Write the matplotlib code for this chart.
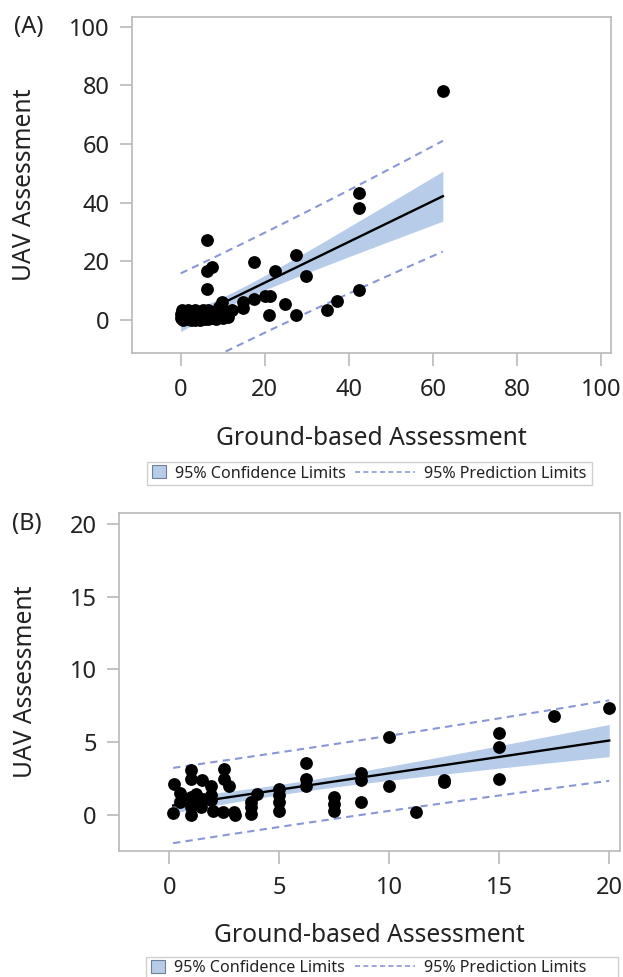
import numpy as np
import matplotlib
matplotlib.use("Agg")
import matplotlib.pyplot as plt
from matplotlib.patches import Patch, Rectangle
from matplotlib.lines import Line2D

plt.rcParams['font.family'] = ['Noto Sans', 'DejaVu Sans']

# ---------------- data ----------------
a_ground = [62.4, 42.5, 42.5, 42.5, 37.3, 34.9, 6.2, 7.4, 6.3, 6.3, 17.5, 27.4, 22.5,
            29.8, 24.8, 21.1, 27.4, 20.0, 21.3, 17.5, 14.9, 14.9, 12.1, 11.3, 9.8,
            0.0, 0.0, 0.3, 0.6, 0.6, 1.0, 1.5, 1.8, 1.8, 2.5, 3.0, 3.0, 3.5, 4.2,
            4.5, 5.4, 5.4, 6.0, 6.6, 6.6, 7.2, 7.8, 8.2, 9.0, 9.0, 10.1, 10.1,
            0.2, 0.4, 0.8, 1.2, 1.4, 2.2, 2.6, 3.3, 3.8, 4.8, 5.0, 5.8, 6.3, 7.0,
            8.5, 9.5]
a_uav = [78.2, 43.4, 38.1, 10.2, 6.6, 3.2, 27.1, 18.2, 16.5, 10.5, 19.6, 22.2, 16.8,
         15.1, 5.5, 1.5, 1.5, 8.0, 8.2, 7.2, 6.2, 4.0, 3.4, 1.1, 6.2,
         0.5, 2.0, 3.2, 1.0, 0.0, 2.5, 0.3, 3.4, 1.2, 0.0, 2.3, 0.5, 3.2, 1.2,
         0.0, 3.4, 0.8, 2.0, 3.4, 0.3, 1.5, 0.5, 2.8, 4.3, 1.0, 3.4, 0.8,
         1.5, 0.2, 2.8, 0.8, 1.8, 2.8, 1.0, 0.0, 1.8, 2.5, 1.2, 0.2, 1.0, 2.6,
         0.4, 2.0]

b_ground = [0.23, 0.18, 0.49, 0.49, 0.99, 0.99, 0.99, 0.99, 0.99, 1.22, 1.29, 1.44,
            1.49, 1.9, 1.9, 1.9, 1.97, 1.56, 2.5, 2.5, 2.73, 2.46, 2.96, 3.0,
            3.72, 3.72, 3.72, 3.98, 5.0, 5.0, 5.0, 5.0, 6.22, 6.22, 6.22,
            7.47, 7.47, 7.47, 8.7, 8.7, 8.73, 9.99, 9.99, 11.23, 12.49, 12.49,
            15.0, 15.0, 15.0, 17.5, 20.0]
b_uav = [2.17, 0.16, 1.53, 0.91, 3.13, 2.51, 1.25, 0.57, 0.0, 1.48, 0.91, 0.57,
         2.4, 2.05, 1.37, 1.03, 0.34, 1.14, 3.2, 2.51, 1.99, 0.23, 0.23, 0.0,
         0.91, 0.57, 0.12, 1.44, 1.83, 1.37, 0.91, 0.34, 3.58, 2.47, 2.05,
         1.25, 0.8, 0.3, 2.9, 2.4, 0.91, 5.36, 2.01, 0.23, 2.3, 2.45,
         5.66, 4.68, 2.51, 6.8, 7.35]

a_ticks = [0, 20, 40, 60, 80, 100]
b_ticks = [0, 5, 10, 15, 20]
legend_labels = ['95% Confidence Limits', '95% Prediction Limits']

CI_COLOR = '#b7cce8'
PI_COLOR = '#8a97d6'
SPINE = '#b9b9b9'
TXT = '#222222'
W, H = 623, 977


def fit_bands(x, y, t=2.0):
    x = np.asarray(x, float)
    y = np.asarray(y, float)
    n = len(x)
    b1, b0 = np.polyfit(x, y, 1)
    resid = y - (b0 + b1 * x)
    s = np.sqrt(np.sum(resid ** 2) / (n - 2))
    xm = x.mean()
    sxx = np.sum((x - xm) ** 2)
    xs = np.linspace(x.min(), x.max(), 200)
    yh = b0 + b1 * xs
    ci = t * s * np.sqrt(1 / n + (xs - xm) ** 2 / sxx)
    pi = t * s * np.sqrt(1 + 1 / n + (xs - xm) ** 2 / sxx)
    return xs, yh, ci, pi


def panel(ax, x, y, xlim, ylim, ticks, ylab_x):
    xs, yh, ci, pi = fit_bands(x, y)
    ax.fill_between(xs, yh - ci, yh + ci, color=CI_COLOR, lw=0, zorder=1)
    ax.plot(xs, yh + pi, color=PI_COLOR, lw=1.5, ls=(0, (3.5, 2.5)), zorder=2)
    ax.plot(xs, yh - pi, color=PI_COLOR, lw=1.5, ls=(0, (3.5, 2.5)), zorder=2)
    ax.scatter(x, y, s=85, color='black', zorder=3, linewidths=0)
    ax.plot(xs, yh, color='black', lw=1.7, zorder=4)
    ax.set_xlim(*xlim)
    ax.set_ylim(*ylim)
    ax.set_xticks(ticks)
    ax.set_yticks(ticks)
    for sp in ax.spines.values():
        sp.set_color(SPINE)
        sp.set_linewidth(1.2)
    ax.tick_params(length=9, width=1.2, color=SPINE, labelsize=17,
                   labelcolor=TXT, pad=7)
    ax.tick_params(axis='x', pad=9)
    ax.set_xlabel('Ground-based Assessment', fontsize=17.7, color=TXT, labelpad=17)
    ax.set_ylabel('UAV Assessment', fontsize=17.7, color=TXT)
    bb = ax.get_position()
    ax.yaxis.set_label_coords((ylab_x / W - bb.x0) / bb.width, 0.5)


def legend_row(fig, box, yc):
    x0, x1, y0, y1 = box
    fig.patches.append(Rectangle((x0 / W, 1 - y1 / H), (x1 - x0) / W, (y1 - y0) / H,
                                 transform=fig.transFigure, facecolor='white',
                                 edgecolor='#cfcfcf', lw=1.0))
    h1 = Patch(facecolor=CI_COLOR, edgecolor='#6f7f98', lw=0.8)
    h2 = Line2D([0], [0], color=PI_COLOR, lw=1.2, ls=(0, (3, 2)))
    common = dict(loc='center left', fontsize=11.6, frameon=False,
                  borderpad=0, borderaxespad=0, handletextpad=0.55,
                  labelcolor=TXT)
    fig.legend([h1], [legend_labels[0]], bbox_to_anchor=((x0 + 5) / W, 1 - yc / H),
               handlelength=0.85, handleheight=0.85, **common)
    fig.legend([h2], [legend_labels[1]], bbox_to_anchor=(355 / W, 1 - yc / H),
               handlelength=3.75, **common)


fig = plt.figure(figsize=(W / 100, H / 100), dpi=100)
axA = fig.add_axes([132 / W, 1 - 353 / H, (610.5 - 132) / W, (353 - 17) / H])
axB = fig.add_axes([119 / W, 1 - 850.5 / H, (620 - 119) / W, (850.5 - 513.3) / H])

panel(axA, a_ground, a_uav, (-11.6, 102.3), (-11.3, 103.3), a_ticks, 37)
panel(axB, b_ground, b_uav, (-2.28, 20.49), (-2.4, 20.7), b_ticks, 38)

fig.text(14 / W, 1 - 27 / H, '(A)', fontsize=17, color=TXT, va='center', ha='left')
fig.text(12 / W, 1 - 524 / H, '(B)', fontsize=17, color=TXT, va='center', ha='left')

legend_row(fig, (147, 592, 462, 485), 473.5)
legend_row(fig, (146, 618, 957, 979), 968)

fig.savefig('out.png', dpi=100)
